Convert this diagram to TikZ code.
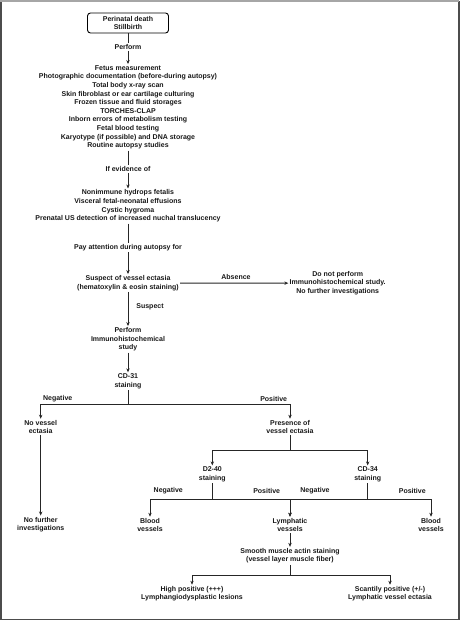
\documentclass[tikz,border=0pt]{standalone}
\usepackage{fontspec}
\setmainfont{Liberation Sans}
\usetikzlibrary{arrows.meta}
\begin{document}
\begin{tikzpicture}[x=1pt,y=-1pt,
  txt/.style={font=\fontsize{7}{8.6}\selectfont\bfseries, align=center, inner sep=1.2pt, text=black!90},
  conn/.style={line width=0.9pt, draw=black!85},
  arr/.style={conn, -{Stealth[length=4pt,width=3.4pt]}}
]
\useasboundingbox (0,0) rectangle (474,634);
\fill[white] (0,0) rectangle (474,634);
\draw[line width=1.6pt, draw=black!70] (1,1.5) rectangle (459,619.5);
\draw[line width=2pt, draw=black!35] (0,1) -- (459,1);

\node[txt, draw, rounded corners=3pt, line width=0.9pt, minimum width=81pt, minimum height=20pt] (start) at (128,23) {Perinatal death\\Stillbirth};
\node[txt] (perform) at (128,47) {Perform};
\node[txt] (studies) at (128,107.3) {Fetus measurement\\Photographic documentation (before-during autopsy)\\Total body x-ray scan\\Skin fibroblast or ear cartilage culturing\\Frozen tissue and fluid storages\\TORCHES-CLAP\\Inborn errors of metabolism testing\\Fetal blood testing\\Karyotype (if possible) and DNA storage\\Routine autopsy studies};
\node[txt] (ifev) at (128,169) {If evidence of};
\node[txt] (evid) at (128,206) {Nonimmune hydrops fetalis\\Visceral fetal-neonatal effusions\\Cystic hygroma\\Prenatal US detection of increased nuchal translucency};
\node[txt] (pay) at (128,247.7) {Pay attention during autopsy for};
\node[txt] (susp) at (128,283) {Suspect of vessel ectasia\\(hematoxylin \& eosin staining)};
\node[txt] (donot) at (337.7,283.2) {Do not perform\\Immunohistochemical study.\\No further investigations};
\node[txt] (ihc) at (128,339.3) {Perform\\Immunohistochemical\\study};
\node[txt] (cd31) at (128,381.2) {CD-31\\staining};
\node[txt] (novessel) at (40.7,427) {No vessel\\ectasia};
\node[txt] (presence) at (290,427) {Presence of\\vessel ectasia};
\node[txt] (d240) at (212.3,474.3) {D2-40\\staining};
\node[txt] (cd34) at (367.7,474.3) {CD-34\\staining};
\node[txt] (nofurther) at (40.7,524.5) {No further\\investigations};
\node[txt] (bloodL) at (150,525) {Blood\\vessels};
\node[txt] (lymph) at (290,525) {Lymphatic\\vessels};
\node[txt] (bloodR) at (431,525) {Blood\\vessels};
\node[txt] (sma) at (290,555.8) {Smooth muscle actin staining\\(vessel layer muscle fiber)};
\node[txt] (high) at (192,593.7) {High positive (+++)\\Lymphangiodysplastic lesions};
\node[txt] (scant) at (390,593.7) {Scantily positive (+/-)\\Lymphatic vessel ectasia};

% labels
\node[txt] (labs) at (236,277.3) {Absence};
\node[txt, anchor=west] (lsus) at (135,307) {Suspect};
\node[txt] (ln1) at (57.7,398.7) {Negative};
\node[txt] (lp1) at (273.7,398.7) {Positive};
\node[txt] (ln2) at (168.3,491) {Negative};
\node[txt] (lp2) at (266.7,491) {Positive};
\node[txt] (ln3) at (315,491) {Negative};
\node[txt] (lp3) at (412.3,491) {Positive};

% connectors
\draw[conn] (start) -- (perform);
\draw[arr] (perform) -- (studies);
\draw[conn] (studies) -- (ifev);
\draw[arr] (ifev) -- (evid);
\draw[conn] (evid) -- (pay);
\draw[arr] (pay) -- (susp);
\draw[arr] (susp) -- (donot);
\draw[arr] (susp) -- (ihc);
\draw[arr] (ihc) -- (cd31);
\coordinate (b1) at (128,404.3);
\draw[conn] (cd31) -- (b1);
\draw[arr] (b1) -| (novessel);
\draw[arr] (b1) -| (presence);
\draw[arr] (novessel) -- (nofurther);
\coordinate (b2) at (290,450.7);
\draw[conn] (presence) -- (b2);
\draw[arr] (b2) -| (d240);
\draw[arr] (b2) -| (cd34);
\coordinate (b3) at (212.3,499.3);
\draw[conn] (d240) -- (b3);
\draw[arr] (b3) -| (bloodL);
\draw[arr] (b3) -| (lymph);
\coordinate (b4) at (367.7,499.3);
\draw[conn] (cd34) -- (b4);
\draw[arr] (b4) -| (lymph);
\draw[arr] (b4) -| (bloodR);
\draw[arr] (lymph) -- (sma);
\coordinate (b5) at (290,575.3);
\draw[conn] (sma) -- (b5);
\draw[arr] (b5) -| (high);
\draw[arr] (b5) -| (scant);
\end{tikzpicture}
\end{document}
